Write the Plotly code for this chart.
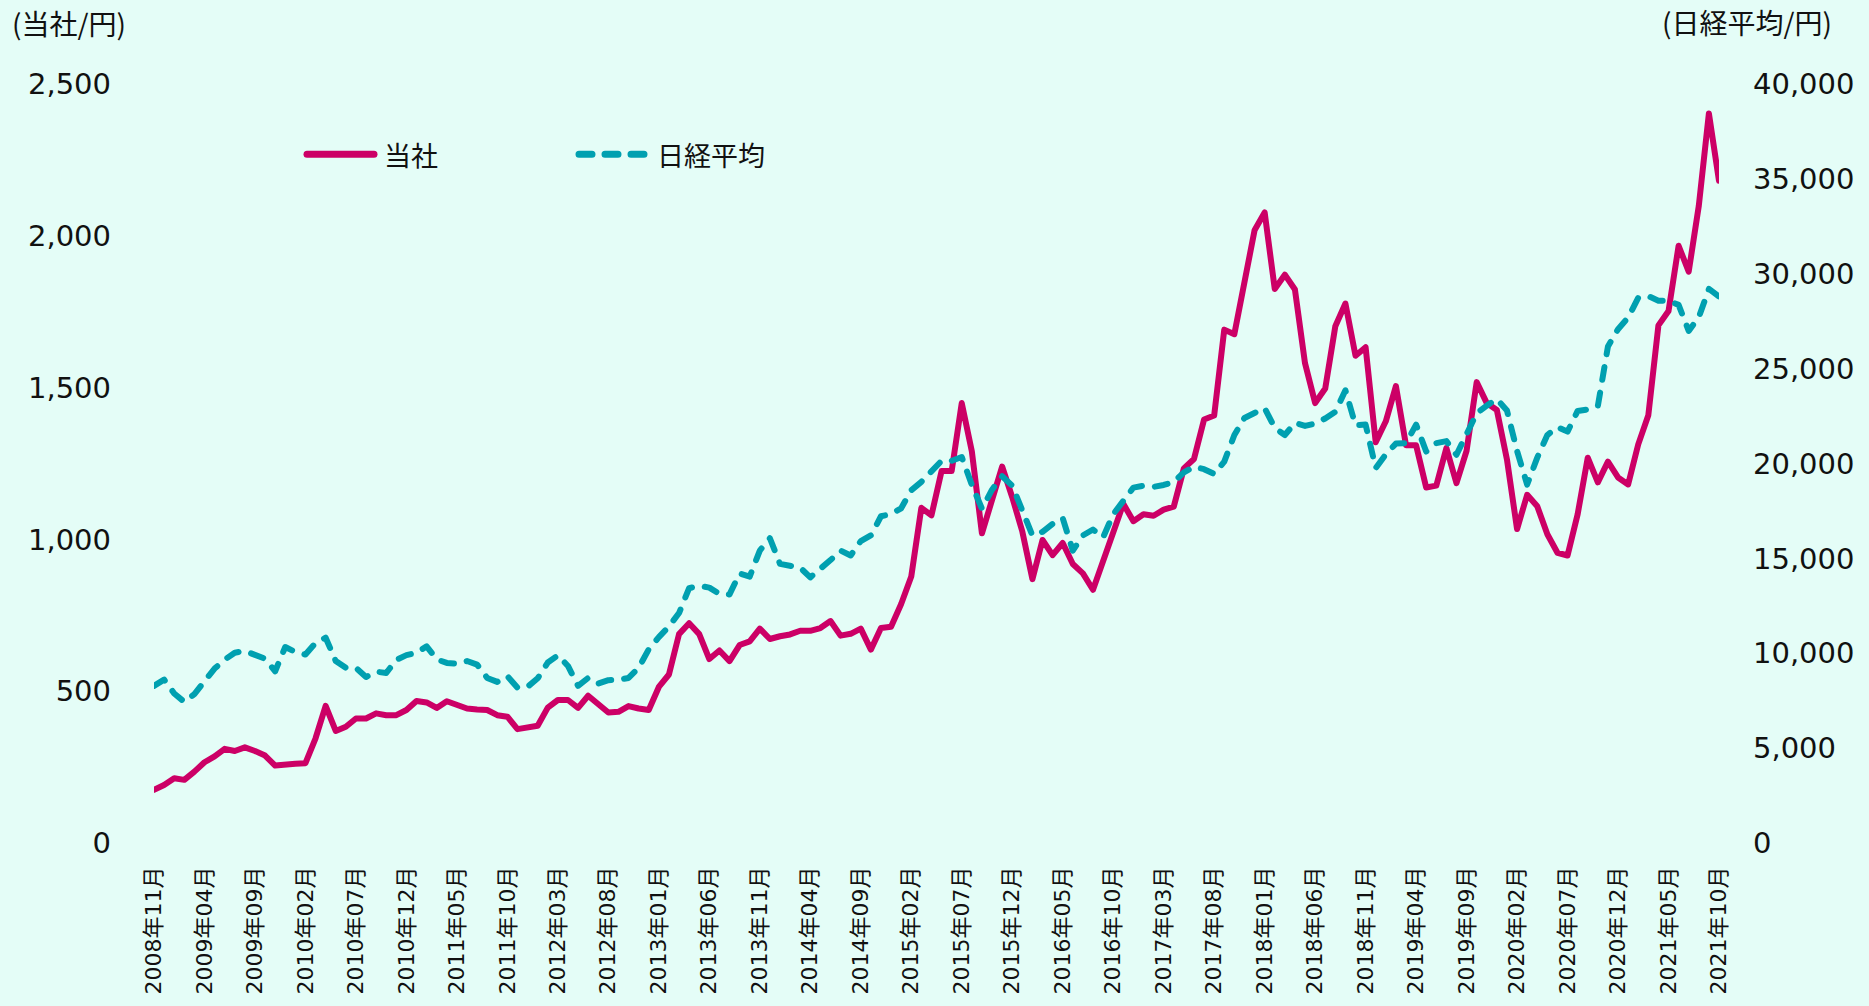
import pandas as pd
import plotly.graph_objects as go

# Months (categories) 2008-11 .. 2021-10
months = [f"{d.year}年{d.month:02d}月" for d in pd.date_range("2008-11-01", "2021-10-01", freq="MS")]

# 当社 share price (yen)
company = [
    175, 191, 213, 208, 235, 266, 285, 310, 303, 315,
    303, 288, 255, 260, 261, 263, 345, 452, 369, 383,
    410, 410, 427, 421, 421, 438, 468, 463, 445, 467,
    457, 443, 440, 438, 421, 416, 375, 383, 386, 446,
    471, 471, 445, 485, 460, 430, 432, 451, 443, 438,
    514, 555, 688, 724, 688, 606, 634, 599, 652, 664,
    706, 672, 681, 687, 699, 699, 708, 731, 683, 689,
    706, 637, 708, 712, 787, 878, 1104, 1079, 1225, 1225,
    1449, 1290, 1020, 1127, 1240, 1139, 1026, 869, 998, 948,
    988, 919, 888, 834, 925, 1016, 1117, 1060, 1083, 1078,
    1098, 1108, 1234, 1265, 1395, 1408, 1691, 1676, 1840, 2018,
    2077, 1825, 1872, 1823, 1580, 1449, 1497, 1702, 1777, 1605,
    1633, 1320, 1389, 1505, 1310, 1310, 1171, 1177, 1301, 1185,
    1292, 1518, 1449, 1426, 1263, 1034, 1147, 1109, 1017, 956,
    947, 1083, 1269, 1188, 1256, 1204, 1181, 1313, 1409, 1705,
    1752, 1967, 1882, 2099, 2403, 2181,
]

# 日経平均 (yen)
nikkei = [
    8280, 8610, 7880, 7440, 7850, 8510, 9190, 9660, 10030, 10120,
    9890, 9710, 9050, 10330, 10070, 9930, 10540, 10820, 9590, 9230,
    9230, 8750, 9030, 8960, 9650, 9900, 10030, 10360, 9680, 9490,
    9450, 9590, 9400, 8700, 8490, 8790, 8180, 8230, 8680, 9510,
    9890, 9330, 8280, 8700, 8400, 8580, 8610, 8700, 9230, 10210,
    10850, 11410, 12120, 13430, 13550, 13460, 13130, 13100, 14200, 14040,
    15410, 16060, 14710, 14620, 14510, 14000, 14410, 14910, 15410, 15150,
    15910, 16210, 17220, 17340, 17640, 18590, 19030, 19630, 20140, 20140,
    20340, 18870, 17620, 18620, 19330, 18830, 17480, 16210, 16400, 16820,
    17120, 15410, 16210, 16520, 16110, 17320, 18030, 18730, 18830, 18770,
    18870, 19030, 19530, 19830, 19700, 19450, 20100, 21500, 22400, 22700,
    22920, 21880, 21500, 22140, 21980, 22110, 22370, 22720, 23860, 22010,
    22050, 19760, 20480, 21050, 21070, 22050, 20630, 21070, 21180, 20460,
    21590, 22640, 23050, 23400, 22790, 20660, 18890, 20310, 21500, 21920,
    21680, 22770, 22850, 23030, 26170, 27080, 27690, 28730, 28820, 28580,
    28580, 28360, 26990, 27710, 29200, 28800,
]

tick_step = 5
tick_idx = list(range(0, len(months), tick_step))
tick_text = [months[i] for i in tick_idx]

left_ticks = [0, 500, 1000, 1500, 2000, 2500]
right_ticks = [0, 5000, 10000, 15000, 20000, 25000, 30000, 35000, 40000]

COL_CO = "#CC0066"
COL_NK = "#00A0B0"
BG = "#E4FDF7"
NUMFONT = "DejaVu Sans, Verdana, Noto Sans CJK JP, sans-serif"
JPFONT = "Noto Sans CJK JP, sans-serif"

x = list(range(len(months)))

fig = go.Figure()
fig.add_trace(go.Scatter(x=x, y=company, name="当社", mode="lines",
                         line=dict(color=COL_CO, width=6), yaxis="y"))
fig.add_trace(go.Scatter(x=x, y=nikkei, name="日経平均", mode="lines",
                         line=dict(color=COL_NK, width=6, dash="13px,13px"), yaxis="y2"))

L, R, T, B = 154, 150, 84, 156
W, H = 1869, 1006
pw = W - L - R
ph = H - T - B


def px(xp):
    return (xp - L) / pw


def py(yp):
    return (H - B - yp) / ph


fig.update_layout(
    width=W, height=H,
    margin=dict(l=L, r=R, t=T, b=B),
    paper_bgcolor=BG, plot_bgcolor=BG,
    showlegend=False,
    xaxis=dict(range=[0, len(months) - 1], tickmode="array", tickvals=tick_idx, ticktext=tick_text,
               tickangle=-90, showgrid=False, zeroline=False, showline=False,
               tickfont=dict(family=NUMFONT, size=22, color="#111111"), ticklabelstandoff=18),
    yaxis=dict(range=[0, 2500], tickmode="array", tickvals=left_ticks,
               ticktext=[f"{v:,}" for v in left_ticks],
               showgrid=False, zeroline=False, showline=False,
               tickfont=dict(family=NUMFONT, size=29, color="#111111"), ticklabelstandoff=42),
    yaxis2=dict(range=[0, 40000], overlaying="y", side="right", tickmode="array",
                tickvals=right_ticks, ticktext=[f"{v:,}" for v in right_ticks],
                showgrid=False, zeroline=False, showline=False,
                tickfont=dict(family=NUMFONT, size=29, color="#111111"), ticklabelstandoff=33),
)

# axis unit titles
fig.add_annotation(text="(当社/円)", xref="paper", yref="paper", x=px(10), y=py(22),
                   xanchor="left", yanchor="middle", showarrow=False,
                   font=dict(family=JPFONT, size=28, color="#111111"))
fig.add_annotation(text="(日経平均/円)", xref="paper", yref="paper", x=px(1834), y=py(21),
                   xanchor="right", yanchor="middle", showarrow=False,
                   font=dict(family=JPFONT, size=28, color="#111111"))

# legend (drawn manually to match the long samples)
fig.add_shape(type="line", xref="paper", yref="paper", x0=px(307), x1=px(374), y0=py(155), y1=py(155),
              line=dict(color=COL_CO, width=7))
fig.add_annotation(text="当社", xref="paper", yref="paper", x=px(382), y=py(155),
                   xanchor="left", yanchor="middle", showarrow=False,
                   font=dict(family=JPFONT, size=27, color="#111111"))
fig.add_shape(type="line", xref="paper", yref="paper", x0=px(579), x1=px(646), y0=py(155), y1=py(155),
              line=dict(color=COL_NK, width=7, dash="13px,13px"))
fig.add_annotation(text="日経平均", xref="paper", yref="paper", x=px(655), y=py(155),
                   xanchor="left", yanchor="middle", showarrow=False,
                   font=dict(family=JPFONT, size=27, color="#111111"))

post = (
    "document.body.style.margin='0';"
    "document.body.style.background='" + BG + "';"
    "document.querySelectorAll('.scatterlayer .js-line, .shapelayer path').forEach(function(p){"
    "p.style.strokeLinecap='round';p.style.strokeLinejoin='round';});"
)

fig.write_html("out.html", config={"displayModeBar": False}, post_script=post)
